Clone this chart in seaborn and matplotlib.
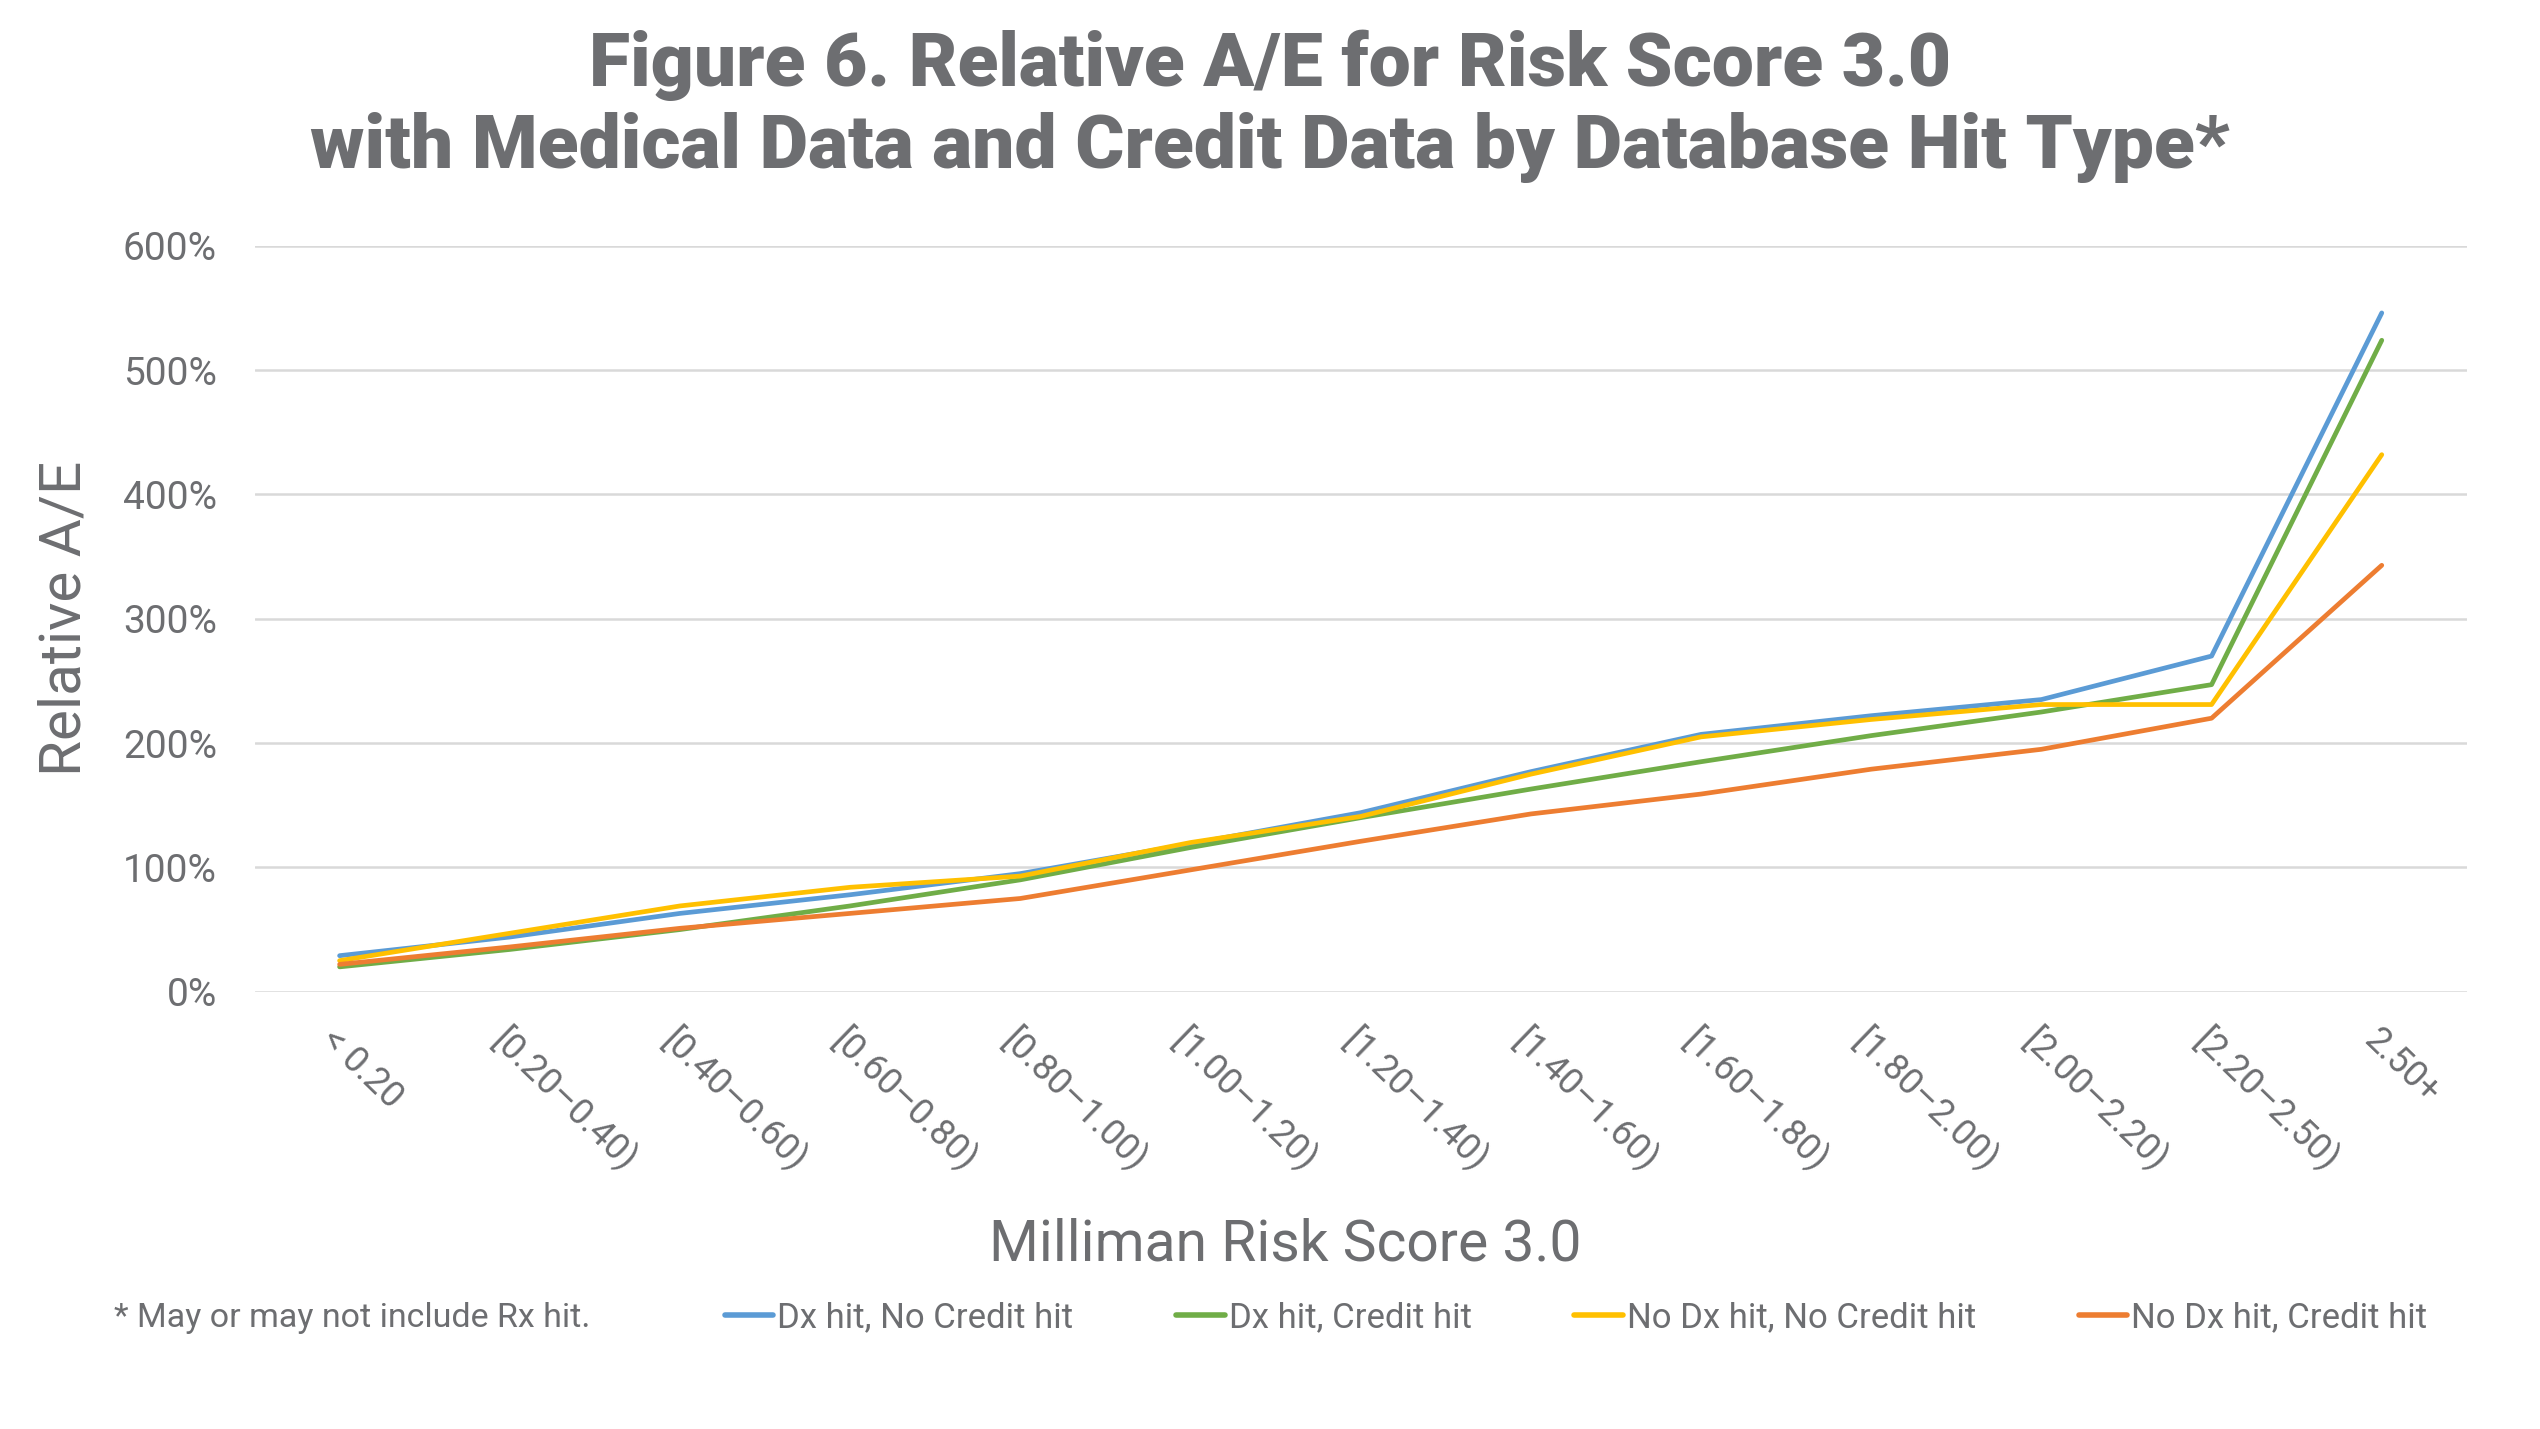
import pandas as pd
import numpy as np
import matplotlib
matplotlib.use('Agg')
import matplotlib.pyplot as plt
import seaborn as sns

# bins of Milliman Risk Score 3.0
categories = ['< 0.20', '[0.20–0.40)', '[0.40–0.60)', '[0.60–0.80)', '[0.80–1.00)',
              '[1.00–1.20)', '[1.20–1.40)', '[1.40–1.60)', '[1.60–1.80)', '[1.80–2.00)',
              '[2.00–2.20)', '[2.20–2.50)', '2.50+']

# relative A/E in %
dx_no_credit = [29, 44, 63, 78, 95, 119, 144, 177, 207, 222, 235, 270, 546]
dx_credit = [20, 34, 50, 69, 90, 116, 140, 163, 185, 206, 225, 247, 524]
nodx_no_credit = [25, 47, 69, 84, 93, 120, 141, 175, 205, 219, 231, 231, 432]
nodx_credit = [22, 36, 51, 63, 75, 98, 121, 143, 159, 179, 195, 220, 343]

series_names = ['Dx hit, No Credit hit', 'Dx hit, Credit hit',
                'No Dx hit, No Credit hit', 'No Dx hit, Credit hit']
series_colors = ['#5B9BD5', '#70AD47', '#FFC000', '#ED7D31']

data = pd.concat([
    pd.DataFrame({'bin': categories, 'ae': vals, 'type': name})
    for name, vals in zip(series_names,
                          [dx_no_credit, dx_credit, nodx_no_credit, nodx_credit])
])

sns.set_style('white')
plt.rcParams['font.family'] = ['Roboto', 'DejaVu Sans']
grey = '#6d6e71'

fig = plt.figure(figsize=(25.4, 14.29), dpi=100)
ax = fig.add_axes([0.1002, 0.306, 0.871, 0.522])

sns.lineplot(data=data, x='bin', y='ae', hue='type', hue_order=series_names,
             palette=series_colors, sort=False, linewidth=3.4, ax=ax)

ax.set_ylim(0, 600)
ax.set_xlim(-0.5, len(categories) - 0.5)
ax.set_yticks(np.arange(0, 601, 100))
ax.set_yticklabels([f'{v}%' for v in range(0, 601, 100)], fontsize=28, color=grey)
ax.yaxis.grid(True, color='#d9d9d9', linewidth=1.8)
ax.xaxis.grid(False)
for s in ax.spines.values():
    s.set_visible(False)
ax.tick_params(axis='both', length=0)
ax.tick_params(axis='y', pad=27)
ax.tick_params(axis='x', pad=22)
plt.setp(ax.get_xticklabels(), rotation=-44, ha='left', va='top',
         rotation_mode='anchor', fontsize=26, color=grey)

ax.set_xlabel('')
ax.set_ylabel('Relative A/E', fontsize=42, color=grey, labelpad=22)
fig.text(0.506, 0.129, 'Milliman Risk Score 3.0', ha='center', va='center',
         fontsize=41, color=grey)

fig.text(0.5, 0.954, 'Figure 6. Relative A/E for Risk Score 3.0',
         ha='center', va='center', fontsize=54, fontweight='heavy', color=grey)
fig.text(0.5, 0.897, 'with Medical Data and Credit Data by Database Hit Type*',
         ha='center', va='center', fontsize=54, fontweight='heavy', color=grey)

fig.text(0.045, 0.078, '* May or may not include Rx hit.', ha='left', va='center',
         fontsize=24.5, color=grey)

ax.get_legend().remove()
handles, labels = ax.get_legend_handles_labels()
for h in handles:
    h.set_linewidth(4)
fig.legend(handles, labels, loc='center left', bbox_to_anchor=(0.273, 0.078),
           ncol=4, frameon=False, fontsize=25, labelcolor=grey,
           handlelength=1.4, handletextpad=0.12, columnspacing=2.95)

plt.savefig('out.png', dpi=100)
